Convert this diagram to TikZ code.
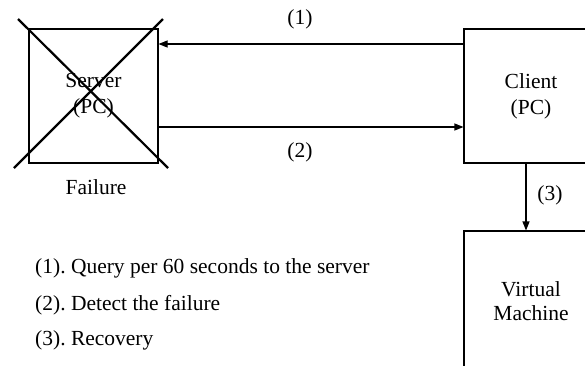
\documentclass[tikz,border=0pt]{standalone}
\usepackage{fontspec}
\setmainfont{Liberation Serif}
\usetikzlibrary{arrows.meta}
\frenchspacing
\begin{document}
\begin{tikzpicture}[x=1pt,y=-1pt,
  box/.style={draw, line width=1.1pt, minimum width=129pt, minimum height=134pt, inner sep=0pt, align=center, font=\fontsize{21.5}{26}\selectfont},
  lbl/.style={font=\fontsize{21.5}{26}\selectfont, inner sep=0pt},
  arr/.style={line width=1.1pt, -{Triangle[length=9pt,width=7pt]}},
  cross/.style={line width=2.2pt}]
\useasboundingbox (0,0) rectangle (585,365);
\clip (0,0) rectangle (585,365);
\node[box] (server) at (93.5,96) {Server\\(PC)};
\node[box, minimum width=134pt] (client) at (531,96) {Client\\(PC)};
\node[box, minimum width=134pt, minimum height=140pt, font=\fontsize{21.5}{24}\selectfont] (vm) at (531,301) {Virtual\\Machine};
\coordinate (x1) at (18,19);
\coordinate (x2) at (168,168);
\coordinate (x3) at (163,19);
\coordinate (x4) at (14,168);
\draw[cross] (x1) -- (x2);
\draw[cross] (x3) -- (x4);
\draw[arr] (client.west |- 0,44) -- (server.east |- 0,44);
\draw[arr] (server.east |- 0,127) -- (client.west |- 0,127);
\draw[arr] (client.south -| 526,0) -- (vm.north -| 526,0);
\node[lbl] (l1) at (300,19) {(1)};
\node[lbl] (l2) at (300,152) {(2)};
\node[lbl] (l3) at (550,195) {(3)};
\node[lbl] (fail) at (96,187) {Failure};
\node[lbl, anchor=base west] (t1) at (35,273) {(1). Query per 60 seconds to the server};
\node[lbl, anchor=base west] (t2) at (35,310) {(2). Detect the failure};
\node[lbl, anchor=base west] (t3) at (35,345) {(3). Recovery};
\end{tikzpicture}
\end{document}
